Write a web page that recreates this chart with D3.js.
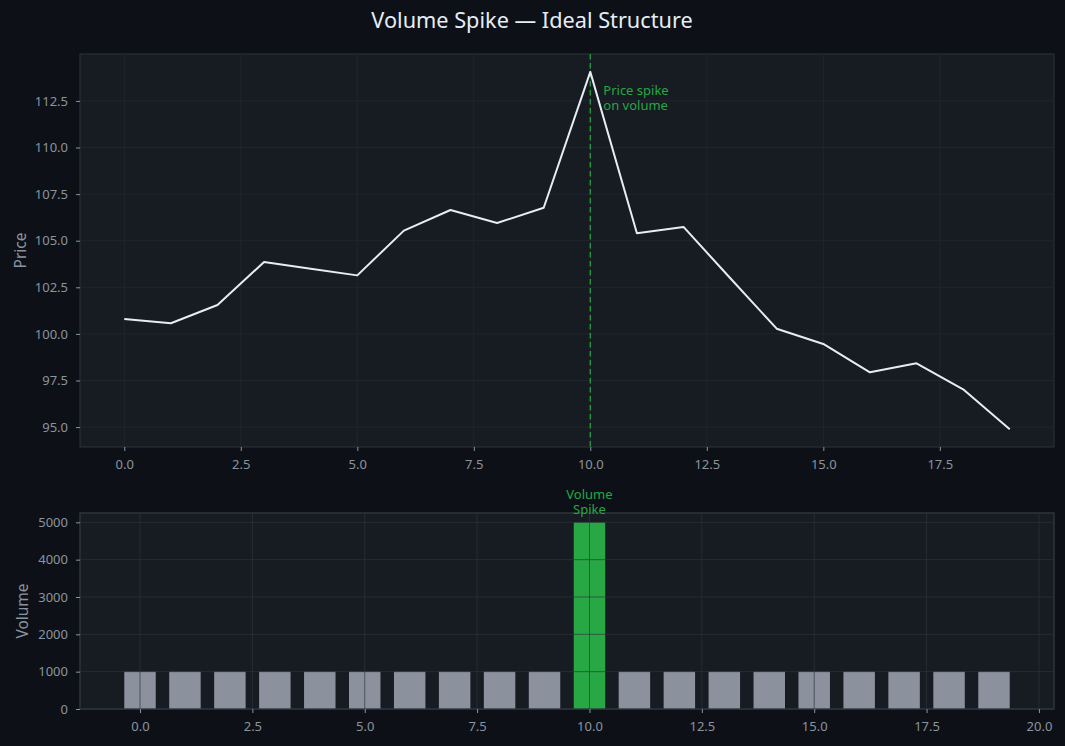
<!DOCTYPE html>
<html><head><meta charset="utf-8">
<script src="https://cdn.jsdelivr.net/npm/d3@7/dist/d3.min.js"></script>
<style>
html,body{margin:0;padding:0;background:#0d1117;}
svg{display:block;font-family:"Noto Sans",sans-serif;}
</style></head>
<body><svg id="c" width="1065" height="746"></svg>
<script>
const idx = d3.range(20);
const price = [100.80, 100.57, 101.55, 103.86, 103.50, 103.14, 105.54, 106.65, 105.95, 106.77,
               114.06, 105.40, 105.74, 103.00, 100.28, 99.46, 97.94, 98.42, 97.03, 94.89];
const volume = [1000,1000,1000,1000,1000,1000,1000,1000,1000,1000,
                5000,1000,1000,1000,1000,1000,1000,1000,1000,1000];
const spikeIndex = 10;
const priceTicks = [95.0, 97.5, 100.0, 102.5, 105.0, 107.5, 110.0, 112.5];
const xTicksTop = [0, 2.5, 5, 7.5, 10, 12.5, 15, 17.5];
const xTicksBottom = [0, 2.5, 5, 7.5, 10, 12.5, 15, 17.5, 20];
const volTicks = [0, 1000, 2000, 3000, 4000, 5000];

const C = {bg:"#0d1117", face:"#171b22", grid:"#232830", spine:"#2e343d", text:"#8b949e",
           title:"#e6edf3", line:"#e6edf3", green:"#28a745", bar:"#8b929e"};

const svg = d3.select("#c");
svg.append("rect").attr("width",1065).attr("height",746).attr("fill",C.bg);

svg.append("text").attr("x",532).attr("y",28).attr("text-anchor","middle")
  .attr("fill",C.title).attr("font-size",21.7).text("Volume Spike — Ideal Structure");

function styleAxis(g){
  g.attr("font-family",null).attr("font-size",null);
  g.select(".domain").remove();
  g.selectAll(".tick line").attr("stroke",C.text);
  g.selectAll(".tick text").attr("fill",C.text).attr("font-size",13)
    .attr("font-family","'Noto Sans',sans-serif");
}

// ---------- top panel ----------
const T = {l:80, r:1054, t:54, b:447};
const pMin = d3.min(price), pMax = d3.max(price), pr = pMax-pMin;
const xT = d3.scaleLinear().domain([-0.95, 19.95]).range([T.l, T.r]);
const yT = d3.scaleLinear().domain([pMin-0.05*pr, pMax+0.05*pr]).range([T.b, T.t]);

const gTop = svg.append("g");
gTop.append("rect").attr("x",T.l).attr("y",T.t).attr("width",T.r-T.l).attr("height",T.b-T.t)
  .attr("fill",C.face).attr("stroke",C.spine).attr("stroke-width",1);
gTop.append("g").selectAll("line").data(xTicksTop).join("line")
  .attr("x1",d=>xT(d)).attr("x2",d=>xT(d)).attr("y1",T.t).attr("y2",T.b)
  .attr("stroke",C.grid).attr("stroke-width",0.8);
gTop.append("g").selectAll("line").data(priceTicks).join("line")
  .attr("x1",T.l).attr("x2",T.r).attr("y1",d=>yT(d)).attr("y2",d=>yT(d))
  .attr("stroke",C.grid).attr("stroke-width",0.8);

gTop.append("g").attr("transform",`translate(0,${T.b})`)
  .call(d3.axisBottom(xT).tickValues(xTicksTop).tickFormat(d3.format(".1f")).tickSize(4).tickPadding(9))
  .call(styleAxis);
gTop.append("g").attr("transform",`translate(${T.l},0)`)
  .call(d3.axisLeft(yT).tickValues(priceTicks).tickFormat(d3.format(".1f")).tickSize(4).tickPadding(8))
  .call(styleAxis);

gTop.append("line").attr("x1",xT(spikeIndex)).attr("x2",xT(spikeIndex)).attr("y1",T.t).attr("y2",T.b)
  .attr("stroke",C.green).attr("stroke-width",1.5).attr("stroke-dasharray","5.5,3.5").attr("opacity",0.85);

gTop.append("path").datum(idx)
  .attr("d", d3.line().x(i=>xT(i)).y(i=>yT(price[i])))
  .attr("fill","none").attr("stroke",C.line).attr("stroke-width",2).attr("stroke-linejoin","round");

const ann = gTop.append("text").attr("fill",C.green).attr("font-size",13);
ann.append("tspan").attr("x",xT(spikeIndex)+13).attr("y",95).text("Price spike");
ann.append("tspan").attr("x",xT(spikeIndex)+13).attr("y",110).text("on volume");

svg.append("text").attr("transform",`translate(25.5,${(T.t+T.b)/2}) rotate(-90)`)
  .attr("text-anchor","middle").attr("fill",C.text).attr("font-size",15.5).text("Price");

// ---------- bottom panel ----------
const B = {l:80, r:1054, t:513, b:709};
const bw = 0.7;
const xB = d3.scaleLinear().domain([-bw/2 - 0.05*(19+bw), 19+bw/2 + 0.05*(19+bw)]).range([B.l, B.r]);
const yB = d3.scaleLinear().domain([0, d3.max(volume)*1.05]).range([B.b, B.t]);

const gBot = svg.append("g");
gBot.append("rect").attr("x",B.l).attr("y",B.t).attr("width",B.r-B.l).attr("height",B.b-B.t)
  .attr("fill",C.face).attr("stroke",C.spine).attr("stroke-width",1);

gBot.append("g").selectAll("rect").data(idx).join("rect")
  .attr("x",i=>xB(i-bw/2)).attr("width",i=>xB(i+bw/2)-xB(i-bw/2))
  .attr("y",i=>yB(volume[i])).attr("height",i=>yB(0)-yB(volume[i]))
  .attr("fill",i=>i===spikeIndex?C.green:C.bar);

gBot.append("g").selectAll("line").data(xTicksBottom).join("line")
  .attr("x1",d=>xB(d)).attr("x2",d=>xB(d)).attr("y1",B.t).attr("y2",B.b)
  .attr("stroke","#2f353d").attr("stroke-width",0.9).attr("opacity",0.75);
gBot.append("g").selectAll("line").data(volTicks).join("line")
  .attr("x1",B.l).attr("x2",B.r).attr("y1",d=>yB(d)).attr("y2",d=>yB(d))
  .attr("stroke","#2f353d").attr("stroke-width",0.9).attr("opacity",0.75);
gBot.append("rect").attr("x",B.l).attr("y",B.t).attr("width",B.r-B.l).attr("height",B.b-B.t)
  .attr("fill","none").attr("stroke",C.spine).attr("stroke-width",1);

gBot.append("g").attr("transform",`translate(0,${B.b})`)
  .call(d3.axisBottom(xB).tickValues(xTicksBottom).tickFormat(d3.format(".1f")).tickSize(4).tickPadding(9))
  .call(styleAxis);
gBot.append("g").attr("transform",`translate(${B.l},0)`)
  .call(d3.axisLeft(yB).tickValues(volTicks).tickFormat(d3.format("d")).tickSize(4).tickPadding(8))
  .call(styleAxis);

const ann2 = gBot.append("text").attr("fill",C.green).attr("font-size",13).attr("text-anchor","middle");
ann2.append("tspan").attr("x",xB(spikeIndex)).attr("y",yB(volume[spikeIndex])-23).text("Volume");
ann2.append("tspan").attr("x",xB(spikeIndex)).attr("y",yB(volume[spikeIndex])-8).text("Spike");

svg.append("text").attr("transform",`translate(28,${(B.t+B.b)/2}) rotate(-90)`)
  .attr("text-anchor","middle").attr("fill",C.text).attr("font-size",15.5).text("Volume");
</script></body></html>
